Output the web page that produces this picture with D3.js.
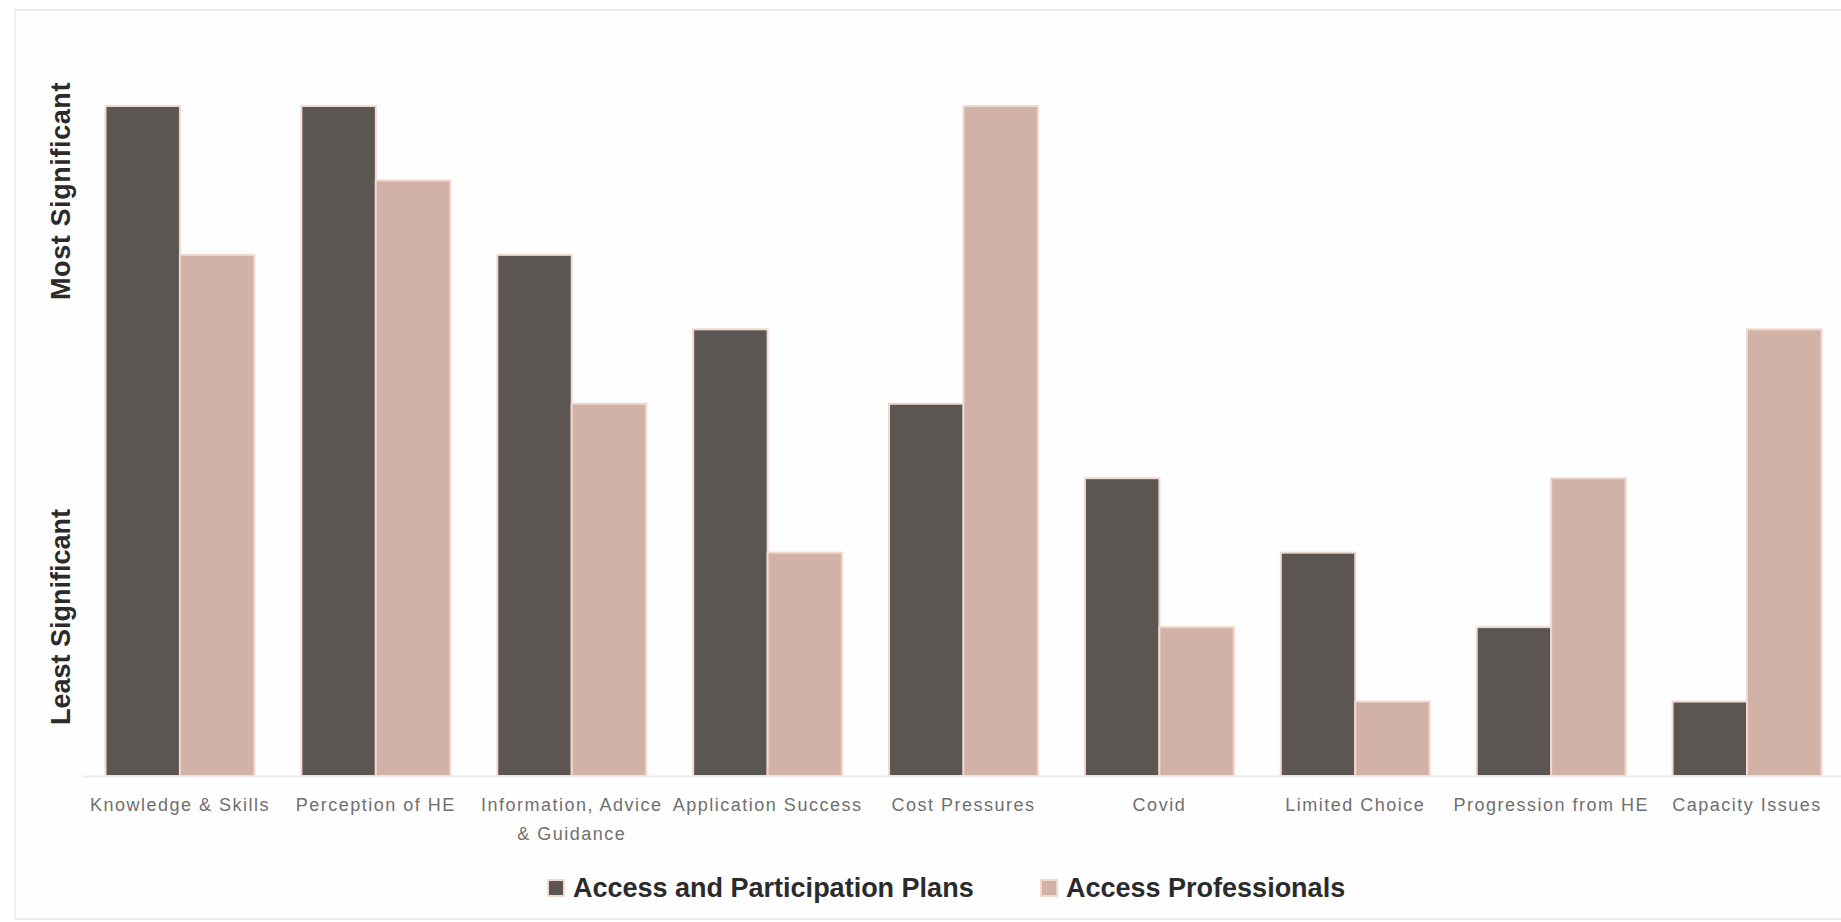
<!DOCTYPE html>
<html>
<head>
<meta charset="utf-8">
<script src="https://cdn.jsdelivr.net/npm/d3@7"></script>
<style>
  html, body { margin: 0; padding: 0; background: #ffffff; }
  svg { display: block; }
  text { font-family: "Liberation Sans", Arial, sans-serif; }
</style>
</head>
<body>
<svg id="chart" width="1841" height="922"></svg>
<script>
// Ranked significance of barriers (9 = most significant, 1 = least)
const categories = [
  "Knowledge & Skills",
  "Perception of HE",
  "Information, Advice & Guidance",
  "Application Success",
  "Cost Pressures",
  "Covid",
  "Limited Choice",
  "Progression from HE",
  "Capacity Issues"
];
const seriesNames = ["Access and Participation Plans", "Access Professionals"];
const planValues = [9, 9, 7, 6, 5, 4, 3, 2, 1];
const professionalValues = [7, 8, 5, 3, 9, 2, 1, 4, 6];
const axisLabels = ["Most Significant", "Least Significant"];
const colors = ["#5c5652", "#d2b1a7"];

const svg = d3.select("#chart");
const W = 1841, H = 922;

// outer frame
svg.append("rect")
  .attr("x", 15).attr("y", 10)
  .attr("width", W + 20).attr("height", 909)
  .attr("fill", "#fefefe")
  .attr("stroke", "#eeeeee")
  .attr("stroke-width", 2);

const baseY = 776, topY = 106;

const x0 = d3.scaleBand()
  .domain(categories)
  .range([82, 1845])
  .paddingInner(0.24)
  .paddingOuter(0.12);

const x1 = d3.scaleBand()
  .domain(seriesNames)
  .range([0, x0.bandwidth()]);

const y = d3.scaleLinear().domain([0, 9]).range([baseY, topY]);

const rows = categories.map((c, i) => ({
  category: c,
  values: [
    { series: seriesNames[0], value: planValues[i], color: colors[0] },
    { series: seriesNames[1], value: professionalValues[i], color: colors[1] }
  ]
}));

// bars
const groups = svg.append("g")
  .selectAll("g")
  .data(rows)
  .join("g")
  .attr("transform", d => `translate(${x0(d.category)},0)`);

groups.selectAll("rect")
  .data(d => d.values)
  .join("rect")
  .attr("x", d => x1(d.series))
  .attr("y", d => y(d.value))
  .attr("width", x1.bandwidth())
  .attr("height", d => baseY - y(d.value))
  .attr("fill", d => d.color)
  .attr("stroke", "#f1d8cf")
  .attr("stroke-width", 2);

// category axis
const xAxis = svg.append("g")
  .attr("transform", `translate(0,${baseY})`)
  .call(d3.axisBottom(x0).tickSize(0).tickPadding(0));

xAxis.select(".domain")
  .attr("d", `M83,0.5H${W}`)
  .attr("stroke", "#ececec")
  .attr("stroke-width", 2);

const wrapRules = { "Information, Advice & Guidance": ["Information, Advice", "& Guidance"] };

xAxis.selectAll(".tick text")
  .attr("fill", "#6f6f6f")
  .attr("font-size", 18)
  .attr("letter-spacing", "1.5px")
  .attr("y", 0)
  .attr("dy", null)
  .each(function(d) {
    const lines = wrapRules[d] || [d];
    const t = d3.select(this).text(null);
    lines.forEach((ln, k) => {
      t.append("tspan")
        .attr("x", 0)
        .attr("y", 35 + k * 29)
        .text(ln);
    });
  });

// rotated significance labels on the left
svg.append("text")
  .attr("transform", "translate(70,191) rotate(-90)")
  .attr("text-anchor", "middle")
  .attr("font-size", 27)
  .attr("font-weight", "bold")
  .attr("letter-spacing", "0.6px")
  .attr("fill", "#2b2b2b")
  .text(axisLabels[0]);

svg.append("text")
  .attr("transform", "translate(70,617) rotate(-90)")
  .attr("text-anchor", "middle")
  .attr("font-size", 27)
  .attr("font-weight", "bold")
  .attr("fill", "#2b2b2b")
  .text(axisLabels[1]);

// legend
const legendItems = [
  { name: seriesNames[0], color: colors[0], x: 548 },
  { name: seriesNames[1], color: colors[1], x: 1041 }
];
const legend = svg.append("g").selectAll("g")
  .data(legendItems)
  .join("g")
  .attr("transform", d => `translate(${d.x},880)`);

legend.append("rect")
  .attr("width", 16).attr("height", 16)
  .attr("fill", d => d.color)
  .attr("stroke", "#f1d8cf")
  .attr("stroke-width", 2);

legend.append("text")
  .attr("x", 25)
  .attr("y", 17)
  .attr("font-size", 27)
  .attr("font-weight", "bold")
  .attr("fill", "#2b2b2b")
  .text(d => d.name);
</script>
</body>
</html>
